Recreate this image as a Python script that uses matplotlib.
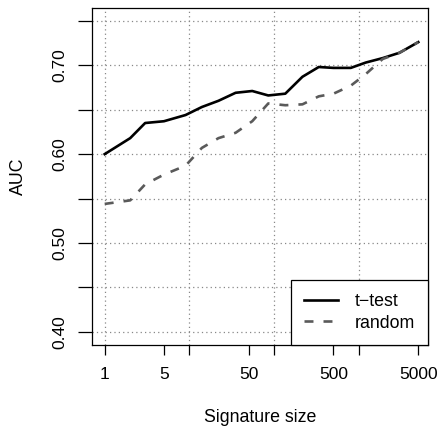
import numpy as np
import matplotlib
matplotlib.use("Agg")
from matplotlib import pyplot as plt

plt.rcParams['font.family'] = ['Liberation Sans', 'DejaVu Sans']

# signature sizes and AUC
sizes = [1, 2, 3, 5, 9, 14, 22, 35, 55, 85, 135, 215, 335, 500, 800, 1200, 1900, 3000, 5000]
auc_ttest = [0.600, 0.618, 0.635, 0.637, 0.644, 0.653, 0.660, 0.669, 0.671, 0.666,
             0.668, 0.687, 0.698, 0.697, 0.697, 0.703, 0.708, 0.714, 0.726]
auc_random = [0.544, 0.548, 0.566, 0.577, 0.587, 0.607, 0.618, 0.624, 0.637, 0.657,
              0.655, 0.656, 0.665, 0.668, 0.677, 0.690, 0.707, 0.714, 0.726]

xticks = [1, 5, 10, 50, 100, 500, 1000, 5000]
xticklabels = ["1", "5", "", "50", "", "500", "", "5000"]
yticks = [0.40, 0.45, 0.50, 0.55, 0.60, 0.65, 0.70, 0.75]
yticklabels = ["0.40", "", "0.50", "", "0.60", "", "0.70", ""]
xgrid = [1, 10, 100, 1000]

fig = plt.figure(figsize=(4.38, 4.29), dpi=100)
ax = fig.add_axes([0.210, 0.196, 0.768, 0.785])

ax.set_xscale("log")
ax.set_xlim(10 ** -0.15, 10 ** 3.818)
ax.set_ylim(0.3854, 0.7642)

# dotted grid, like R's grid()
for gx in xgrid:
    ax.axvline(gx, color="#888888", linestyle=(0, (1, 2.5)), linewidth=0.9, zorder=0)
for gy in yticks:
    ax.axhline(gy, color="#888888", linestyle=(0, (1, 2.5)), linewidth=0.9, zorder=0)

ax.plot(sizes, auc_ttest, color="black", linewidth=1.9, label="t\u2212test", zorder=3)
ax.plot(sizes, auc_random, color="#5a5a5a", linewidth=1.9,
        linestyle=(0, (3.4, 3.8)), label="random", zorder=4)

ax.set_xticks(xticks)
ax.set_xticklabels(xticklabels)
ax.xaxis.set_minor_locator(matplotlib.ticker.NullLocator())
ax.set_yticks(yticks)
ax.set_yticklabels(yticklabels, rotation=90, va="center")

ax.tick_params(axis="both", direction="out", width=0.9, labelsize=12.5, color="black")
ax.tick_params(axis="x", length=7.2, pad=8.5)
ax.tick_params(axis="y", length=10, pad=8)

for s in ax.spines.values():
    s.set_linewidth(0.9)
    s.set_color("black")

ax.set_xlabel("Signature size", fontsize=12.8, labelpad=19.5)
ax.set_ylabel("AUC", fontsize=12.8, labelpad=18)

leg = ax.legend(loc="lower right", borderaxespad=0, fontsize=12.8, fancybox=False,
                framealpha=1, edgecolor="black", handlelength=1.9, handletextpad=0.95,
                labelspacing=0.23, borderpad=0.75)
leg.get_frame().set_linewidth(0.9)

fig.savefig("out.png", dpi=100)
